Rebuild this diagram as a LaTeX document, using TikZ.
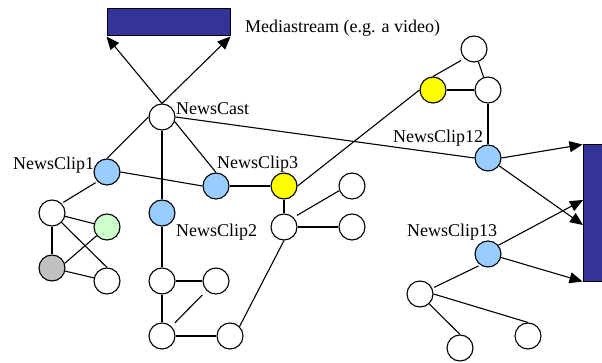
\documentclass[tikz,border=0pt]{standalone}
\usepackage{fontspec}
\setmainfont{Liberation Serif}
\usetikzlibrary{arrows.meta}
\definecolor{clipblue}{HTML}{99CCFF}
\definecolor{mediablue}{HTML}{333399}
\definecolor{keyyellow}{HTML}{FFFF00}
\definecolor{softgreen}{HTML}{CCFFCC}
\definecolor{midgrey}{HTML}{C0C0C0}
\tikzset{
  vertex/.style={circle, draw=black, line width=1.1pt, minimum size=26pt, inner sep=0pt, fill=white},
  clipnode/.style={vertex, fill=clipblue},
  link/.style={line width=1.1pt, draw=black},
  flow/.style={link, -{Triangle[length=13pt,width=11pt]}},
  media/.style={draw=black, line width=1pt, fill=mediablue, inner sep=0pt},
  lbl/.style={anchor=base west, inner sep=0pt, font=\fontsize{18}{20}\selectfont}
}
\begin{document}
\begin{tikzpicture}[x=1pt, y=-1pt]
\useasboundingbox (0,0) rectangle (602,363);

% media streams (the second one runs off the right edge)
\node[media, minimum width=123pt, minimum height=27pt] (stream) at (168.5,22.5) {};
\node[media, minimum width=22pt, minimum height=136pt] (bar) at (594,213) {};
\coordinate (barA) at (583,200);
\coordinate (barB) at (583,225);

% labels
\node[lbl] (lstream) at (245,33) {Mediastream (e.g. a video)};
\node[lbl] (lcast) at (176,115) {NewsCast};
\node[lbl] (lc1) at (13,170) {NewsClip1};
\node[lbl] (lc3) at (217,169) {NewsClip3};
\node[lbl] (lc2) at (176,237) {NewsClip2};
\node[lbl] (lc12) at (393,143) {NewsClip12};
\node[lbl] (lc13) at (407,237) {NewsClip13};

% nodes
\node[vertex] (cast) at (162,117) {};
\node[clipnode] (c1) at (107,172) {};
\node[clipnode] (c3) at (216,186) {};
\node[clipnode] (c2) at (162,213) {};
\node[vertex, fill=keyyellow] (y1) at (284,186) {};
\node[vertex] (c) at (284,227) {};
\node[vertex] (cu) at (352,186) {};
\node[vertex] (cr) at (352,227) {};

\node[vertex] (a) at (52,213) {};
\node[vertex, fill=softgreen] (g) at (107,227) {};
\node[vertex, fill=midgrey] (gr) at (52,268) {};
\node[vertex] (ab) at (107,281) {};

\node[vertex] (b1) at (162,281) {};
\node[vertex] (b2) at (216,281) {};
\node[vertex] (b3) at (162,336) {};
\node[vertex] (b4) at (230,336) {};

\node[vertex, fill=keyyellow] (y2) at (433,90) {};
\node[vertex] (t) at (474,49) {};
\node[vertex] (r) at (488,90) {};
\node[clipnode] (c12) at (488,158) {};
\node[clipnode] (c13) at (488,254) {};
\node[vertex] (d) at (420,294) {};
\node[vertex] (e) at (460,348) {};
\node[vertex] (f) at (528,336) {};

% arrows to the media streams
\draw[flow] (cast.north) -- (stream.south west);
\draw[flow] (cast.north) -- (stream.south east);
\draw[flow] (c12.east) -- (bar.north west);
\draw[flow] (c12) -- (barB);
\draw[flow] (c13.40) -- (barA);
\draw[flow] (c13.-15) -- (bar.south west);

% structure links
\draw[link] (cast.west) -- (c1.north);
\draw[link] (cast.-20) -- (c3.north);
\draw[link] (cast.south) -- (c2.north);
\draw[link] (cast.east) -- (c12.west);
\draw[link] (c1.east) -- (c3.west);
\draw[link] (c3.east) -- (y1.west);
\draw[link] (y1) -- (c);
\draw[link] (y1.east) -- (y2.west);
\draw[link, shorten <=4pt] (c.45) -- (cu.200);
\draw[link] (c) -- (cr);

\draw[link, shorten <=2pt, shorten >=2pt] (a.45) -- (c1.225);
\draw[link] (a) -- (g);
\draw[link] (a) -- (ab.north);
\draw[link] (a) -- (gr);
\draw[link] (gr.20) -- (g.220);
\draw[link] (gr) -- (ab);

\draw[link] (c2) -- (b1);
\draw[link] (b1) -- (b2);
\draw[link] (b1) -- (b3);
\draw[link, shorten <=5pt, shorten >=6pt] (b3) -- (b2);
\draw[link] (b3) -- (b4);
\draw[link] (b4.45) -- (c.south);

\draw[link, shorten >=4pt] (y2.north) -- (t.225);
\draw[link] (t) -- (r);
\draw[link] (y2) -- (r);
\draw[link] (r) -- (c12);

\draw[link, shorten <=2pt, shorten >=2pt] (c13.235) -- (d.25);
\draw[link] (d.east) -- (f.north);
\draw[link] (d.-47) -- (e.north);
\end{tikzpicture}
\end{document}
